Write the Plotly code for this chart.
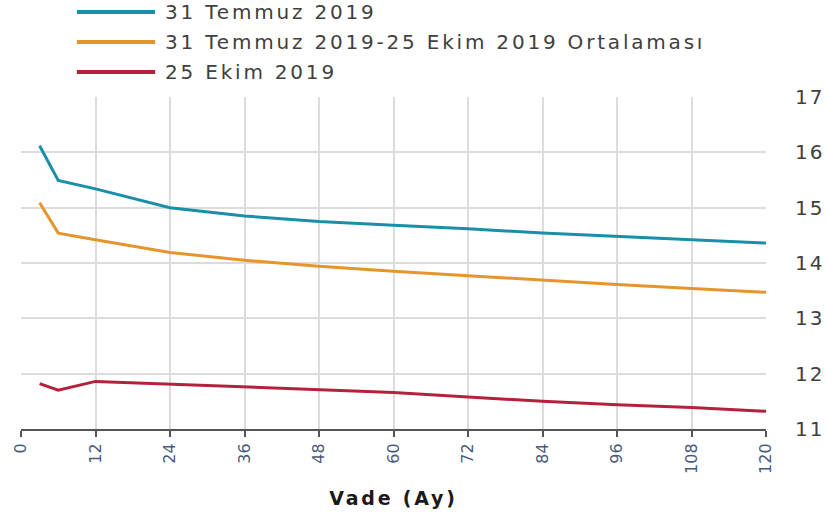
import plotly.graph_objects as go

# vade (ay)
vade = [3, 6, 12, 24, 36, 48, 60, 72, 84, 96, 108, 120]

temmuz = [16.12, 15.49, 15.34, 15.00, 14.85, 14.75, 14.68, 14.62, 14.54, 14.48, 14.43, 14.36]
ortalama = [15.09, 14.54, 14.42, 14.19, 14.05, 13.94, 13.85, 13.77, 13.68, 13.61, 13.54, 13.47]
ekim = [11.82, 11.70, 11.86, 11.81, 11.76, 11.72, 11.66, 11.58, 11.50, 11.44, 11.39, 11.32]

series_names = ["31 Temmuz 2019", "31 Temmuz 2019-25 Ekim 2019 Ortalaması", "25 Ekim 2019"]
series_colors = ["#1a8fa9", "#e6952d", "#b4213c"]

x_ticks = list(range(0, 121, 12))
y_ticks = [11, 12, 13, 14, 15, 16, 17]

FONT = "DejaVu Sans"
TEXT = "#404040"
WIDE = "<span style='letter-spacing:2.8px'>%s</span>"
WIDE_NUM = "<span style='letter-spacing:2px'>%s</span>"

fig = go.Figure()
for name, vals, col in zip(series_names, [temmuz, ortalama, ekim], series_colors):
    fig.add_trace(go.Scatter(
        x=vade, y=vals, mode="lines", name=name,
        line=dict(color=col, width=3),
        showlegend=False,
    ))

# legend drawn by hand (long line samples as in the original)
leg_y = [1.256, 1.166, 1.075]
for name, col, yy in zip(series_names, series_colors, leg_y):
    fig.add_shape(type="line", xref="paper", yref="paper",
                  x0=0.075, x1=0.18, y0=yy, y1=yy,
                  line=dict(color=col, width=4))
    fig.add_annotation(xref="paper", yref="paper", x=0.19, y=yy,
                       text=WIDE % name, showarrow=False, xanchor="left", yanchor="middle",
                       font=dict(family=FONT, size=20, color=TEXT))

fig.update_layout(
    width=827, height=518,
    margin=dict(l=21, r=61, t=97, b=89),
    paper_bgcolor="white",
    plot_bgcolor="white",
    font=dict(family=FONT, color=TEXT),
    xaxis=dict(
        range=[0, 120],
        tickvals=x_ticks,
        tickangle=-90,
        tickfont=dict(size=16, color="#4a5a7a"),
        showgrid=True, gridcolor="#dcdcdc", gridwidth=1.5,
        showline=True, linecolor="#555555", linewidth=2,
        ticks="outside", ticklen=6, tickcolor="#555555", tickwidth=2,
        zeroline=False, automargin=False,
        title=dict(text=WIDE % "<b>Vade (Ay)</b>", font=dict(size=19, color="#1a1a1a"), standoff=19),
    ),
    yaxis=dict(
        range=[11, 17],
        tickvals=y_ticks,
        ticktext=[WIDE_NUM % str(v) for v in y_ticks],
        side="right",
        tickfont=dict(size=20, color=TEXT),
        showgrid=True, gridcolor="#dcdcdc", gridwidth=1.5,
        zeroline=False, automargin=False,
        ticks="", ticklabelstandoff=28,
    ),
)

# drop the page's default body margin so the figure fills the window
fig.write_html(
    "out.html",
    config={"displayModeBar": False},
    post_script="document.body.style.margin='0';",
)
